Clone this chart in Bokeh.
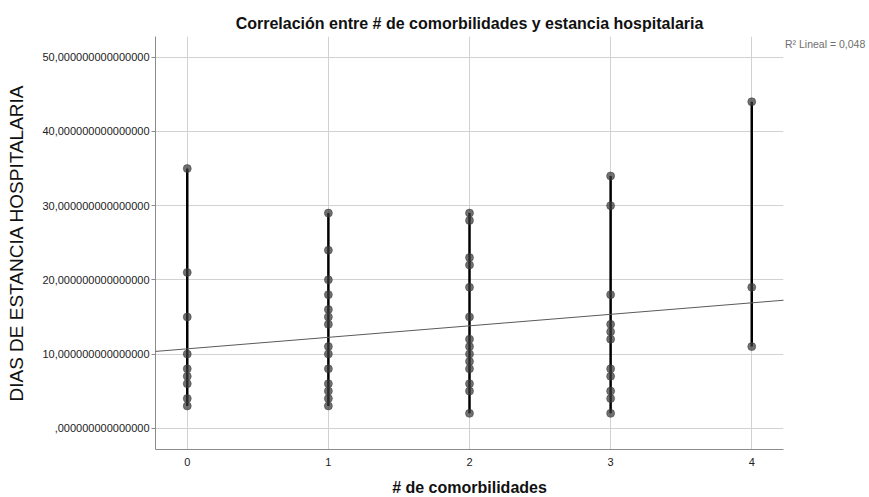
import numpy as np
from bokeh.plotting import figure
from bokeh.models import (ColumnDataSource, FixedTicker, Slope, Range1d,
                          Legend, LegendItem)
from bokeh.embed import file_html
from bokeh.resources import INLINE

# ---- data ----
categories = [0, 1, 2, 3, 4]
stay_0 = [35, 21, 15, 10, 8, 7, 6, 4, 3]
stay_1 = [29, 24, 20, 18, 16, 15, 14, 11, 10, 8, 6, 5, 4, 3]
stay_2 = [29, 28, 23, 22, 19, 15, 12, 11, 10, 9, 8, 6, 5, 2]
stay_3 = [34, 30, 18, 14, 13, 12, 8, 7, 5, 4, 2]
stay_4 = [44, 19, 11]
y_ticks = [0, 10, 20, 30, 40, 50]
y_tick_labels = [",000000000000000", "10,000000000000000", "20,000000000000000",
                 "30,000000000000000", "40,000000000000000", "50,000000000000000"]
x_tick_labels = ["0", "1", "2", "3", "4"]
fit_intercept = 10.7
fit_slope = 1.55
r2_text = "R\u00b2 Lineal = 0,048"

groups = [stay_0, stay_1, stay_2, stay_3, stay_4]
xs, ys = [], []
for c, g in zip(categories, groups):
    xs += [c] * len(g)
    ys += g
pts = ColumnDataSource(dict(x=xs, y=ys))
segs = ColumnDataSource(dict(x=categories, lo=[min(g) for g in groups], hi=[max(g) for g in groups]))

FONT = "Liberation Sans"

p = figure(frame_width=628, frame_height=413, output_backend="svg", toolbar_location=None,
           x_range=Range1d(-0.225, 4.225), y_range=Range1d(-2.87, 52.8),
           min_border_left=155, min_border_right=86, min_border_top=36, min_border_bottom=48,
           title="Correlación entre # de comorbilidades y estancia hospitalaria")
p.background_fill_color = "white"
p.border_fill_color = "white"
p.outline_line_color = None

p.title.align = "center"
p.title.text_font = FONT
p.title.text_font_size = "16px"
p.title.text_font_style = "bold"
p.title.text_color = "#111111"
p.title.standoff = 9

# axes
p.xaxis.ticker = FixedTicker(ticks=categories)
p.xaxis.major_label_overrides = {c: t for c, t in zip(categories, x_tick_labels)}
p.yaxis.ticker = FixedTicker(ticks=y_ticks)
p.yaxis.major_label_overrides = {t: l for t, l in zip(y_ticks, y_tick_labels)}
for ax in (p.xaxis[0], p.yaxis[0]):
    ax.axis_line_color = "#8c8c8c"
    ax.major_tick_line_color = "#8c8c8c"
    ax.minor_tick_line_color = None
    ax.major_tick_in = 0
    ax.major_label_text_font = FONT
    ax.major_label_text_font_size = "11px"
    ax.major_label_text_color = "#222222"
    ax.axis_label_text_font = FONT
    ax.axis_label_text_color = "#111111"
p.xaxis.major_tick_out = 0
p.xaxis.major_label_standoff = 8
p.yaxis.major_tick_out = 4
p.yaxis.major_label_standoff = 2
p.xaxis.axis_label = "# de comorbilidades"
p.xaxis.axis_label_text_font_size = "16px"
p.xaxis.axis_label_text_font_style = "bold"
p.xaxis.axis_label_standoff = 10
p.yaxis.axis_label = "DIAS DE ESTANCIA HOSPITALARIA"
p.yaxis.axis_label_text_font_size = "19px"
p.yaxis.axis_label_text_font_style = "normal"
p.yaxis.axis_label_standoff = 12

p.xgrid.ticker = FixedTicker(ticks=categories)
p.ygrid.ticker = FixedTicker(ticks=y_ticks)
p.grid.grid_line_color = "#d2d2d2"
p.grid.grid_line_width = 1

# fit line
p.add_layout(Slope(gradient=fit_slope, y_intercept=fit_intercept, line_color="#5a5a5a", line_width=1))

# min-max lines and points
p.segment(x0="x", y0="lo", x1="x", y1="hi", source=segs, line_color="black", line_width=2.5)
p.scatter(x="x", y="y", source=pts, size=8, fill_color="#3a3a3a", fill_alpha=0.72,
          line_color="#3a3a3a", line_alpha=0.5)

# R^2 note in the right-hand side panel
legend = Legend(items=[LegendItem(label=r2_text, renderers=[])], location="top_left",
                glyph_width=0, glyph_height=12, label_standoff=0, label_height=12,
                padding=0, margin=2, spacing=0, border_line_color=None,
                background_fill_alpha=0, label_text_font=FONT, label_text_font_size="10.5px",
                label_text_color="#6e6e6e")
p.add_layout(legend, "right")

open("out.html", "w").write(file_html(p, INLINE))
